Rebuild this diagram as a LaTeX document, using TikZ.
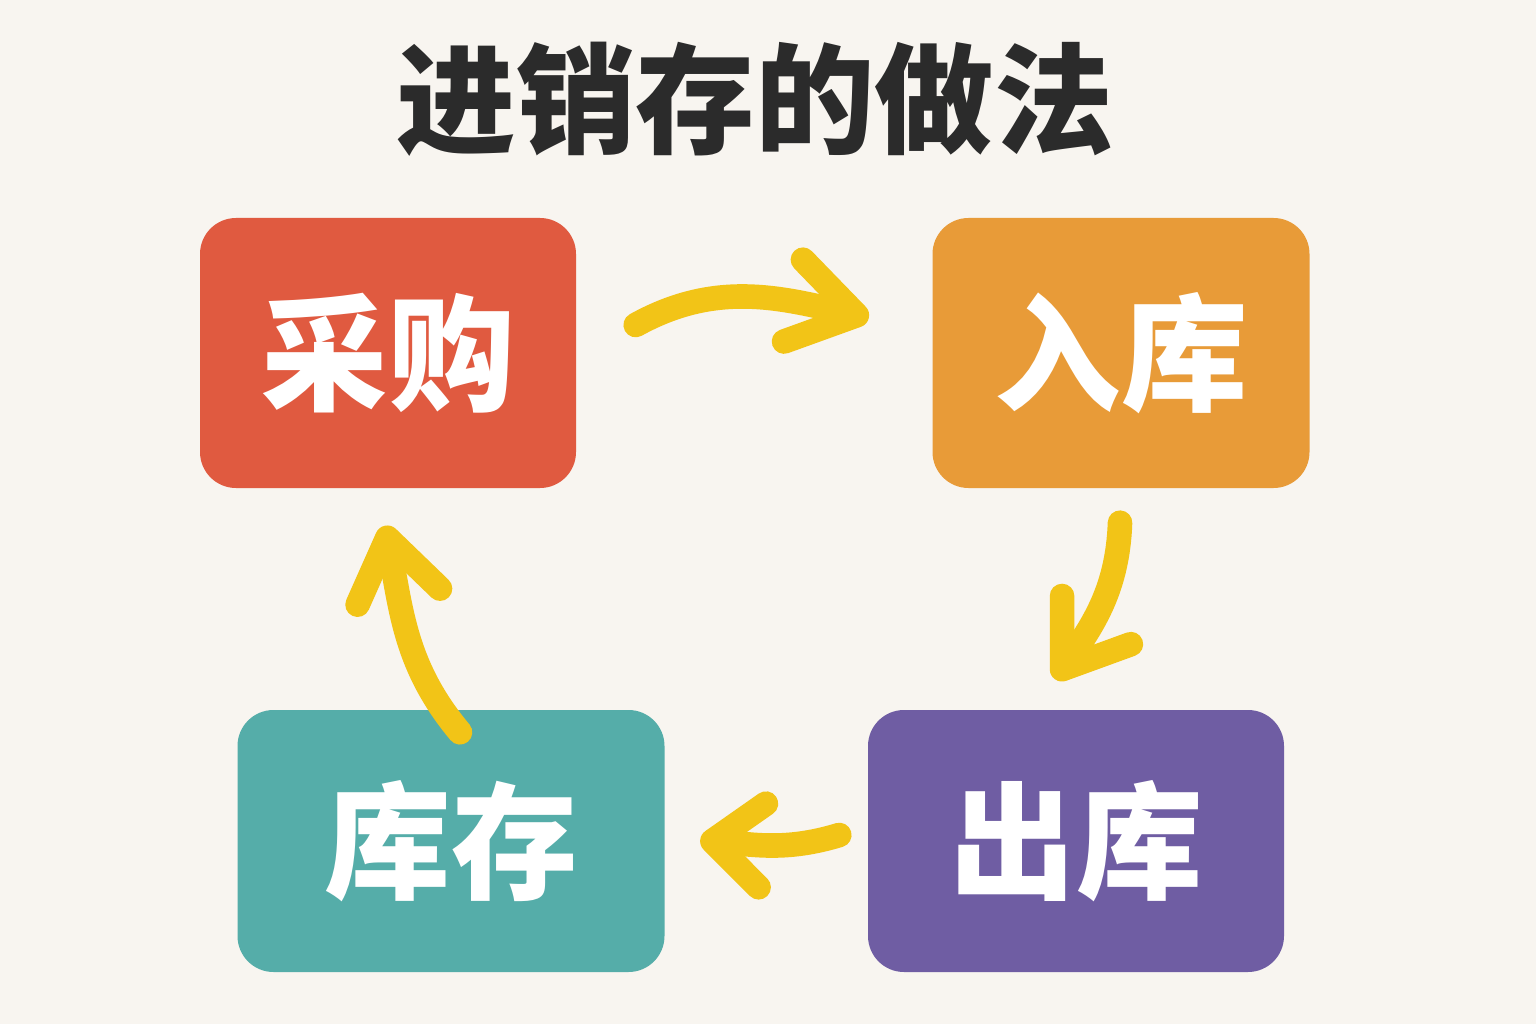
\documentclass[tikz,border=0pt]{standalone}
\usepackage{fontspec}
\newfontfamily\cjk{Noto Sans CJK SC}
\usetikzlibrary{arrows.meta,positioning,calc}
\definecolor{paper}{HTML}{F8F5F0}
\definecolor{titleink}{HTML}{2B2B2B}
\definecolor{buyblk}{HTML}{E05A40}
\definecolor{inblk}{HTML}{E89B38}
\definecolor{outblk}{HTML}{6F5DA3}
\definecolor{stockblk}{HTML}{55ADA9}
\definecolor{arrowyel}{HTML}{F2C417}
\tikzset{
  blk/.style     = {rounded corners=0.36cm,inner sep=0pt,text=white,
                     font=\cjk\bfseries\fontsize{36}{43}\selectfont},
  flowarr/.style = {-{Straight Barb[length=#1,width=8.4mm,round]},
                     line width=7pt,line cap=round,draw=arrowyel},
  flowarr/.default = 6.5mm,
}

\begin{document}
\begin{tikzpicture}
  % page
  \fill[paper] (0,0) rectangle (15.36,10.24);
  \useasboundingbox (0,0) rectangle (15.36,10.24);

  % title
  \node[font=\cjk\bfseries\fontsize{34}{40}\selectfont,text=titleink]
        (title) at (7.55,9.25) {进销存的做法};

  % four steps
  \node[blk,fill=buyblk,minimum width=3.76cm,minimum height=2.70cm]
        (cg) at (3.88,6.71) {采购};
  \node[blk,fill=inblk,minimum width=3.77cm,minimum height=2.70cm]
        (rk) at (11.21,6.71) {入库};
  \node[blk,fill=outblk,minimum width=4.16cm,minimum height=2.62cm]
        (ck) at (10.76,1.83) {出库};
  \node[blk,fill=stockblk,minimum width=4.27cm,minimum height=2.62cm]
        (ks) at (4.51,1.83) {库存};

  % cycle
  \draw[flowarr] ($(cg.east)+(0.59,0.28)$) to[out=29,in=167]
        ($(rk.west)+(-0.63,0.35)$);
  \draw[flowarr=6mm] ($(rk.south)+(-0.01,-0.34)$) to[out=-92,in=55]
        ($(ck.north)+(-0.21,0.30)$);
  \draw[flowarr=5mm] ($(ck.west)+(-0.28,0.06)$) to[out=197,in=-5]
        ($(ks.east)+(0.35,0.01)$);
  \draw[flowarr=6mm] ($(ks.north)+(0.09,-0.23)$) to[out=130,in=-79]
        ($(cg.south)+(-0.03,-0.37)$);
\end{tikzpicture}
\end{document}
